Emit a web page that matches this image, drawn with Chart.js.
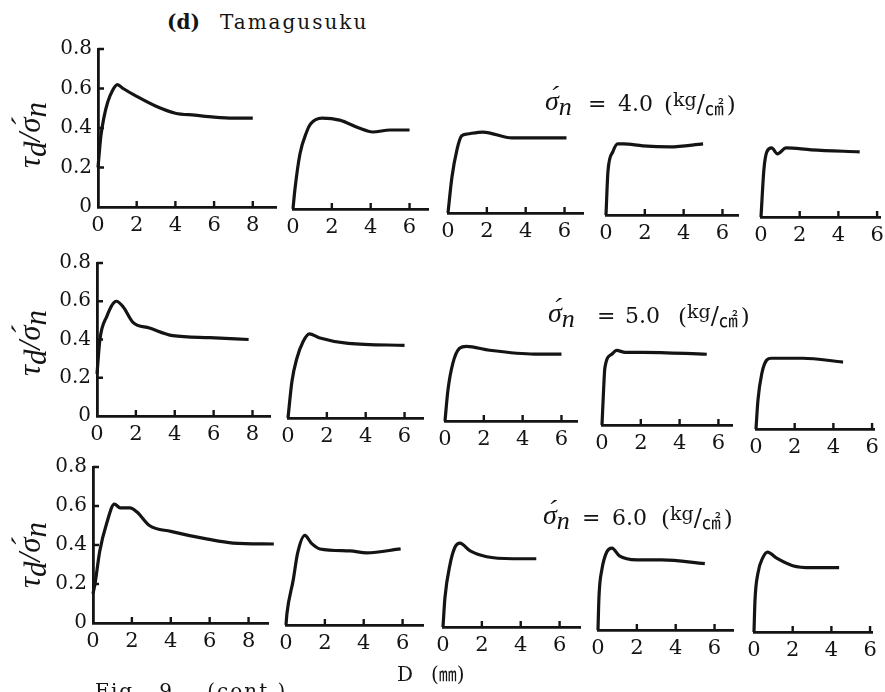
<!DOCTYPE html>
<html>
<head>
<meta charset="utf-8">
<script src="https://cdn.jsdelivr.net/npm/chart.js@4/dist/chart.umd.min.js"></script>
<style>
  html, body { margin: 0; padding: 0; background: #fff; }
  #fig { position: relative; width: 885px; height: 692px; overflow: hidden; background: #fff; }
  #fig canvas { position: absolute; }
  .txt { position: absolute; white-space: nowrap; color: #141414; font-family: "DejaVu Serif", serif; line-height: 1; }
  .it { font-family: "Liberation Serif", serif; font-style: italic; }
  .cjk { font-family: "Noto Sans CJK JP", sans-serif; }
  .ytitle { font-size: 31px; transform: translate(-50%, -50%) rotate(-90deg); }
  .ytitle .sb { position: relative; top: 0.18em; }
</style>
</head>
<body>
<div id="fig"></div>
<script>
// tau_d / sigma'_n against shear displacement D (mm), Tamagusuku samples
const stressLevels = ["4.0", "5.0", "6.0"];
const yMax = 0.8;
const yStep = 0.2;
const xStep = 2;

// sigma'_n = 4.0
const s40a = [[0, 0.2], [0.15, 0.36], [0.3, 0.45], [0.5, 0.53], [0.75, 0.59], [1.0, 0.62], [1.3, 0.6], [2.0, 0.56], [3.0, 0.51], [4.0, 0.475], [5.0, 0.465], [6.0, 0.455], [7.0, 0.45], [8.0, 0.45]];
const s40b = [[0, 0], [0.1, 0.1], [0.36, 0.28], [0.7, 0.39], [0.9, 0.43], [1.5, 0.46], [2.4, 0.45], [3.4, 0.41], [4.1, 0.39], [5.0, 0.4], [6.0, 0.4]];
const s40c = [[0, 0], [0.2, 0.18], [0.46, 0.32], [0.7, 0.39], [1.0, 0.4], [1.8, 0.41], [3.3, 0.38], [6.1, 0.38]];
const s40d = [[0, 0], [0.1, 0.22], [0.35, 0.32], [0.6, 0.36], [0.9, 0.36], [1.9, 0.35], [3.3, 0.345], [5.0, 0.36]];
const s40e = [[0, 0], [0.15, 0.24], [0.3, 0.33], [0.55, 0.35], [0.85, 0.32], [1.3, 0.35], [2.6, 0.34], [5.1, 0.33]];

// sigma'_n = 5.0
const s50a = [[0, 0.22], [0.15, 0.4], [0.5, 0.52], [1.0, 0.6], [1.35, 0.57], [1.85, 0.49], [2.7, 0.46], [3.9, 0.42], [5.8, 0.41], [7.8, 0.4]];
const s50b = [[0, 0], [0.2, 0.19], [0.45, 0.31], [0.78, 0.4], [1.1, 0.44], [1.6, 0.42], [3.1, 0.39], [6.0, 0.38]];
const s50c = [[0, 0], [0.15, 0.16], [0.4, 0.3], [0.75, 0.38], [1.1, 0.39], [2.3, 0.37], [4.6, 0.35], [6.0, 0.35]];
const s50d = [[0, 0], [0.08, 0.18], [0.15, 0.3], [0.5, 0.37], [0.75, 0.39], [1.2, 0.38], [2.1, 0.38], [5.4, 0.37]];
const s50e = [[0, 0], [0.1, 0.15], [0.3, 0.29], [0.55, 0.36], [0.8, 0.37], [2.4, 0.37], [4.5, 0.35]];

// sigma'_n = 6.0
const s60a = [[0, 0.15], [0.1, 0.2], [0.35, 0.37], [0.7, 0.51], [1.1, 0.61], [1.4, 0.59], [1.9, 0.59], [2.25, 0.57], [2.9, 0.5], [4.0, 0.47], [5.9, 0.43], [7.2, 0.41], [9.3, 0.405]];
const s60b = [[0, 0], [0.05, 0.06], [0.37, 0.23], [0.6, 0.37], [0.97, 0.46], [1.3, 0.42], [1.75, 0.39], [3.3, 0.38], [4.15, 0.37], [5.9, 0.39]];
const s60c = [[0, 0], [0.1, 0.15], [0.36, 0.32], [0.62, 0.41], [0.87, 0.43], [1.4, 0.39], [2.25, 0.36], [3.6, 0.35], [4.8, 0.35]];
const s60d = [[0, 0], [0.05, 0.17], [0.2, 0.31], [0.45, 0.4], [0.72, 0.42], [1.1, 0.38], [2.0, 0.36], [3.3, 0.36], [5.5, 0.34]];
const s60e = [[0, 0], [0.05, 0.16], [0.2, 0.3], [0.45, 0.38], [0.7, 0.41], [1.15, 0.38], [2.0, 0.34], [3.0, 0.33], [4.4, 0.33]];

const rows = [
  [s40a, s40b, s40c, s40d, s40e],
  [s50a, s50b, s50c, s50d, s50e],
  [s60a, s60b, s60c, s60d, s60e],
];

// axis lengths (mm) of each small plot
const axisEnd = [
  [9.2, 6.95, 6.95, 6.8, 6.15],
  [8.9, 6.95, 6.8, 6.7, 6.1],
  [9.0, 7.05, 7.05, 6.95, 6.1],
];

// panel placement on the page
const originX = [[98, 293, 448, 606, 761], [97, 288, 445, 602, 756], [93, 286, 443, 598, 754]];
const baseY = [[207, 209, 213, 215, 217], [416, 418, 421, 425, 429], [623, 625, 627, 630, 632]];
const pxPerMm = 19.4;
const pxPerUnit = [197, 191, 195];

const ink = "#141414";
const fig = document.getElementById("fig");

// short tick marks pointing into the plot, no mark at the origin
const innerTicks = {
  id: "innerTicks",
  afterDraw(chart) {
    const { ctx, chartArea, scales } = chart;
    ctx.save();
    ctx.strokeStyle = ink;
    ctx.lineWidth = 2.4;
    ctx.beginPath();
    scales.x.ticks.forEach((t) => {
      if (t.value === 0) return;
      const px = scales.x.getPixelForValue(t.value);
      ctx.moveTo(px, chartArea.bottom);
      ctx.lineTo(px, chartArea.bottom - 6);
    });
    if (scales.y.options.display) {
      scales.y.ticks.forEach((t) => {
        if (t.value === 0) return;
        const py = scales.y.getPixelForValue(t.value);
        ctx.moveTo(chartArea.left, py);
        ctx.lineTo(chartArea.left + 6, py);
      });
    }
    ctx.stroke();
    ctx.restore();
  },
};

const xTickFont = { family: '"DejaVu Serif", serif', size: 21 };
const yTickFont = { family: '"DejaVu Serif", serif', size: 20 };

const makePanel = (row, col) => {
  const first = col === 0;
  const xMax = axisEnd[row][col];
  const ky = pxPerUnit[row];
  const yW = first ? 48 : 0;
  const padL = first ? 0 : 12;
  const padT = 14;
  const padR = 12;
  const xH = 36;
  const plotW = Math.round(xMax * pxPerMm);
  const plotH = Math.round(yMax * ky);

  const canvas = document.createElement("canvas");
  canvas.width = padL + yW + plotW + padR;
  canvas.height = padT + plotH + xH;
  canvas.style.left = `${originX[row][col] - yW - padL}px`;
  canvas.style.top = `${baseY[row][col] - plotH - padT}px`;
  fig.appendChild(canvas);

  const points = rows[row][col].map(([x, y]) => ({ x, y }));

  return new Chart(canvas, {
    type: "line",
    data: {
      datasets: [
        {
          data: points,
          borderColor: ink,
          borderWidth: 3.2,
          pointRadius: 0,
          fill: false,
          cubicInterpolationMode: "monotone",
          clip: false,
        },
      ],
    },
    options: {
      responsive: false,
      animation: false,
      events: [],
      layout: { padding: { left: padL, top: padT, right: padR, bottom: 0 } },
      plugins: { legend: { display: false }, tooltip: { enabled: false } },
      scales: {
        x: {
          type: "linear",
          min: 0,
          max: xMax,
          grid: { display: false, drawTicks: false },
          border: { display: true, color: ink, width: 2.8 },
          ticks: {
            stepSize: xStep,
            includeBounds: false,
            autoSkip: false,
            maxRotation: 0,
            padding: 6,
            color: ink,
            font: xTickFont,
          },
          afterFit: (s) => {
            s.height = xH;
            s.paddingLeft = 0;
            s.paddingRight = 0;
          },
        },
        y: {
          display: first,
          min: 0,
          max: yMax,
          grid: { display: false, drawTicks: false },
          border: { display: true, color: ink, width: 2.8 },
          ticks: {
            stepSize: yStep,
            includeBounds: false,
            padding: 6,
            color: ink,
            font: yTickFont,
          },
          afterFit: (s) => {
            s.width = yW;
            s.paddingTop = 0;
            s.paddingBottom = 0;
          },
        },
      },
    },
    plugins: [innerTicks],
  });
};

rows.forEach((series, r) => series.forEach((_, c) => makePanel(r, c)));

// text around the plots
const addText = (html, left, top, style = "", cls = "txt") => {
  const el = document.createElement("div");
  el.className = cls;
  el.innerHTML = html;
  el.style.left = `${left}px`;
  el.style.top = `${top}px`;
  el.style.cssText += style;
  fig.appendChild(el);
  return el;
};

addText('<b>(d)</b><span style="margin-left:20px;letter-spacing:2px">Tamagusuku</span>', 167, 12, "font-size:20px;");

const yTitleY = [135, 343, 555];
yTitleY.forEach((cy) => {
  addText(
    '<span class="it">τ</span><span class="it sb">d</span><span class="it">/</span><span class="it">σ\u0301</span><span class="it sb">n</span>',
    29, cy, "", "txt ytitle"
  );
});

// sigma'_n labels beside each row
const sigL = [545, 548, 543];
const eqL = [588, 597, 582];
const valL = [618, 625, 612];
const unitL = [664, 678, 661];
const annY = [104, 316, 518];
stressLevels.forEach((lvl, r) => {
  const cy = annY[r];
  addText('<span class="it" style="font-size:28px">σ\u0301</span><span class="it" style="font-size:26px;position:relative;top:5px">n</span>', sigL[r], cy - 17);
  addText("=", eqL[r], cy - 11, "font-size:22px;");
  addText(lvl, valL[r], cy - 11, "font-size:22px;");
  addText(
    '<span style="font-size:23px">(</span><span style="font-size:19px;position:relative;top:-6px">kg</span><span style="font-size:24px">/</span><span class="cjk" style="font-size:19px;position:relative;top:3px">㎠</span><span style="font-size:23px;margin-left:3px">)</span>',
    unitL[r], cy - 12, "font-size:20px;"
  );
});

addText('D<span style="margin-left:18px">(</span><span class="cjk" style="font-size:18px">㎜</span>)', 397, 664, "font-size:20px;");
addText('Fig.&nbsp;&nbsp;9&nbsp;&nbsp;&nbsp;&nbsp;(cont.)', 95, 681, "font-size:20px;letter-spacing:2px;");
</script>
</body>
</html>
